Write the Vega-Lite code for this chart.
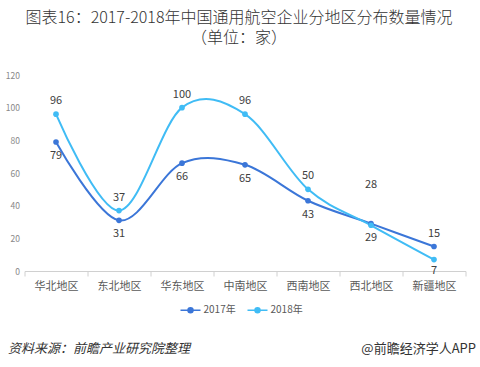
{
  "$schema": "https://vega.github.io/schema/vega-lite/v6.json",
  "autosize": {"type": "none"},
  "width": 441,
  "height": 196,
  "padding": {"left": 24.5, "top": 75, "right": 14.5, "bottom": 96},
  "background": "white",
  "config": {
    "font": "Noto Sans CJK SC",
    "view": {"stroke": null},
    "axis": {"grid": false}
  },
  "title": {
    "text": ["图表16：2017-2018年中国通用航空企业分地区分布数量情况", "（单位：家）"],
    "font": "Noto Sans CJK SC",
    "fontSize": 16,
    "fontWeight": 300,
    "color": "#333333",
    "anchor": "middle",
    "frame": "group",
    "dx": -6,
    "offset": 25,
    "lineHeight": 20.5
  },
  "data": {
    "values": [
      {"region": "华北地区", "year": "2017年", "value": 79},
      {"region": "东北地区", "year": "2017年", "value": 31},
      {"region": "华东地区", "year": "2017年", "value": 66},
      {"region": "中南地区", "year": "2017年", "value": 65},
      {"region": "西南地区", "year": "2017年", "value": 43},
      {"region": "西北地区", "year": "2017年", "value": 29},
      {"region": "新疆地区", "year": "2017年", "value": 15},
      {"region": "华北地区", "year": "2018年", "value": 96},
      {"region": "东北地区", "year": "2018年", "value": 37},
      {"region": "华东地区", "year": "2018年", "value": 100},
      {"region": "中南地区", "year": "2018年", "value": 96},
      {"region": "西南地区", "year": "2018年", "value": 50},
      {"region": "西北地区", "year": "2018年", "value": 28},
      {"region": "新疆地区", "year": "2018年", "value": 7}
    ]
  },
  "encoding": {
    "x": {
      "field": "region",
      "type": "nominal",
      "bandPosition": 0.5,
      "sort": ["华北地区", "东北地区", "华东地区", "中南地区", "西南地区", "西北地区", "新疆地区"],
      "scale": {"type": "band", "paddingInner": 0, "paddingOuter": 0},
      "axis": {
        "title": "@前瞻经济学人APP",
        "titleFont": "Noto Sans CJK SC",
        "titleFontSize": 13,
        "titleFontWeight": "normal",
        "titleColor": "#333333",
        "titleAlign": "right",
        "titleBaseline": "middle",
        "titleX": 451,
        "titleY": 77,
        "labelAngle": 0,
        "labelFontSize": 11,
        "labelColor": "#595959",
        "labelPadding": 4,
        "domainColor": "#d0d0d0",
        "tickColor": "#d0d0d0",
        "tickSize": 5,
        "tickBand": "extent"
      }
    },
    "y": {
      "field": "value",
      "type": "quantitative",
      "scale": {"domain": [0, 120]},
      "axis": {
        "values": [0, 20, 40, 60, 80, 100, 120],
        "title": "资料来源：前瞻产业研究院整理",
        "titleFont": "Noto Sans CJK SC",
        "titleFontSize": 13,
        "titleFontWeight": "normal",
        "titleFontStyle": "italic",
        "titleColor": "#333333",
        "titleAngle": 0,
        "titleAlign": "left",
        "titleBaseline": "middle",
        "titleX": -17,
        "titleY": 273,
        "domain": false,
        "ticks": false,
        "labelFontSize": 8.5,
        "labelColor": "#888888",
        "labelPadding": 5
      }
    },
    "color": {
      "field": "year",
      "type": "nominal",
      "scale": {"domain": ["2017年", "2018年"], "range": ["#3b76d8", "#40bcf5"]},
      "legend": {
        "orient": "none",
        "legendX": 155,
        "legendY": 224,
        "direction": "horizontal",
        "title": null,
        "symbolType": "M-1,0L1,0M0.25,0A0.25,0.25,0,1,1,-0.25,0A0.25,0.25,0,1,1,0.25,0Z",
        "symbolSize": 400,
        "symbolStrokeWidth": 1.5,
        "labelFontSize": 10,
        "labelColor": "#595959",
        "labelOffset": 2,
        "columnPadding": 8,
        "encode": {
          "symbols": {"update": {"fill": {"scale": "color", "field": "value"}}}
        }
      }
    }
  },
  "layer": [
    {"mark": {"type": "line", "interpolate": "cardinal", "strokeWidth": 2}},
    {"mark": {"type": "point", "filled": true, "size": 32, "opacity": 1}},
    {
      "transform": [{"filter": "datum.year == '2017年' && datum.region != '新疆地区'"}],
      "mark": {"type": "text", "dy": 14, "fontSize": 11, "color": "#404040"},
      "encoding": {"text": {"field": "value"}, "color": {"value": "#404040"}}
    },
    {
      "transform": [{"filter": "datum.year == '2017年' && datum.region == '新疆地区'"}],
      "mark": {"type": "text", "dy": -13, "fontSize": 11, "color": "#404040"},
      "encoding": {"text": {"field": "value"}, "color": {"value": "#404040"}}
    },
    {
      "transform": [{"filter": "datum.year == '2018年' && datum.region != '新疆地区' && datum.region != '西北地区'"}],
      "mark": {"type": "text", "dy": -13, "fontSize": 11, "color": "#404040"},
      "encoding": {"text": {"field": "value"}, "color": {"value": "#404040"}}
    },
    {
      "transform": [{"filter": "datum.year == '2018年' && datum.region == '西北地区'"}],
      "mark": {"type": "text", "dy": -40, "fontSize": 11, "color": "#404040"},
      "encoding": {"text": {"field": "value"}, "color": {"value": "#404040"}}
    },
    {
      "transform": [{"filter": "datum.year == '2018年' && datum.region == '新疆地区'"}],
      "mark": {"type": "text", "dy": 11, "fontSize": 11, "color": "#404040"},
      "encoding": {"text": {"field": "value"}, "color": {"value": "#404040"}}
    }
  ]
}
